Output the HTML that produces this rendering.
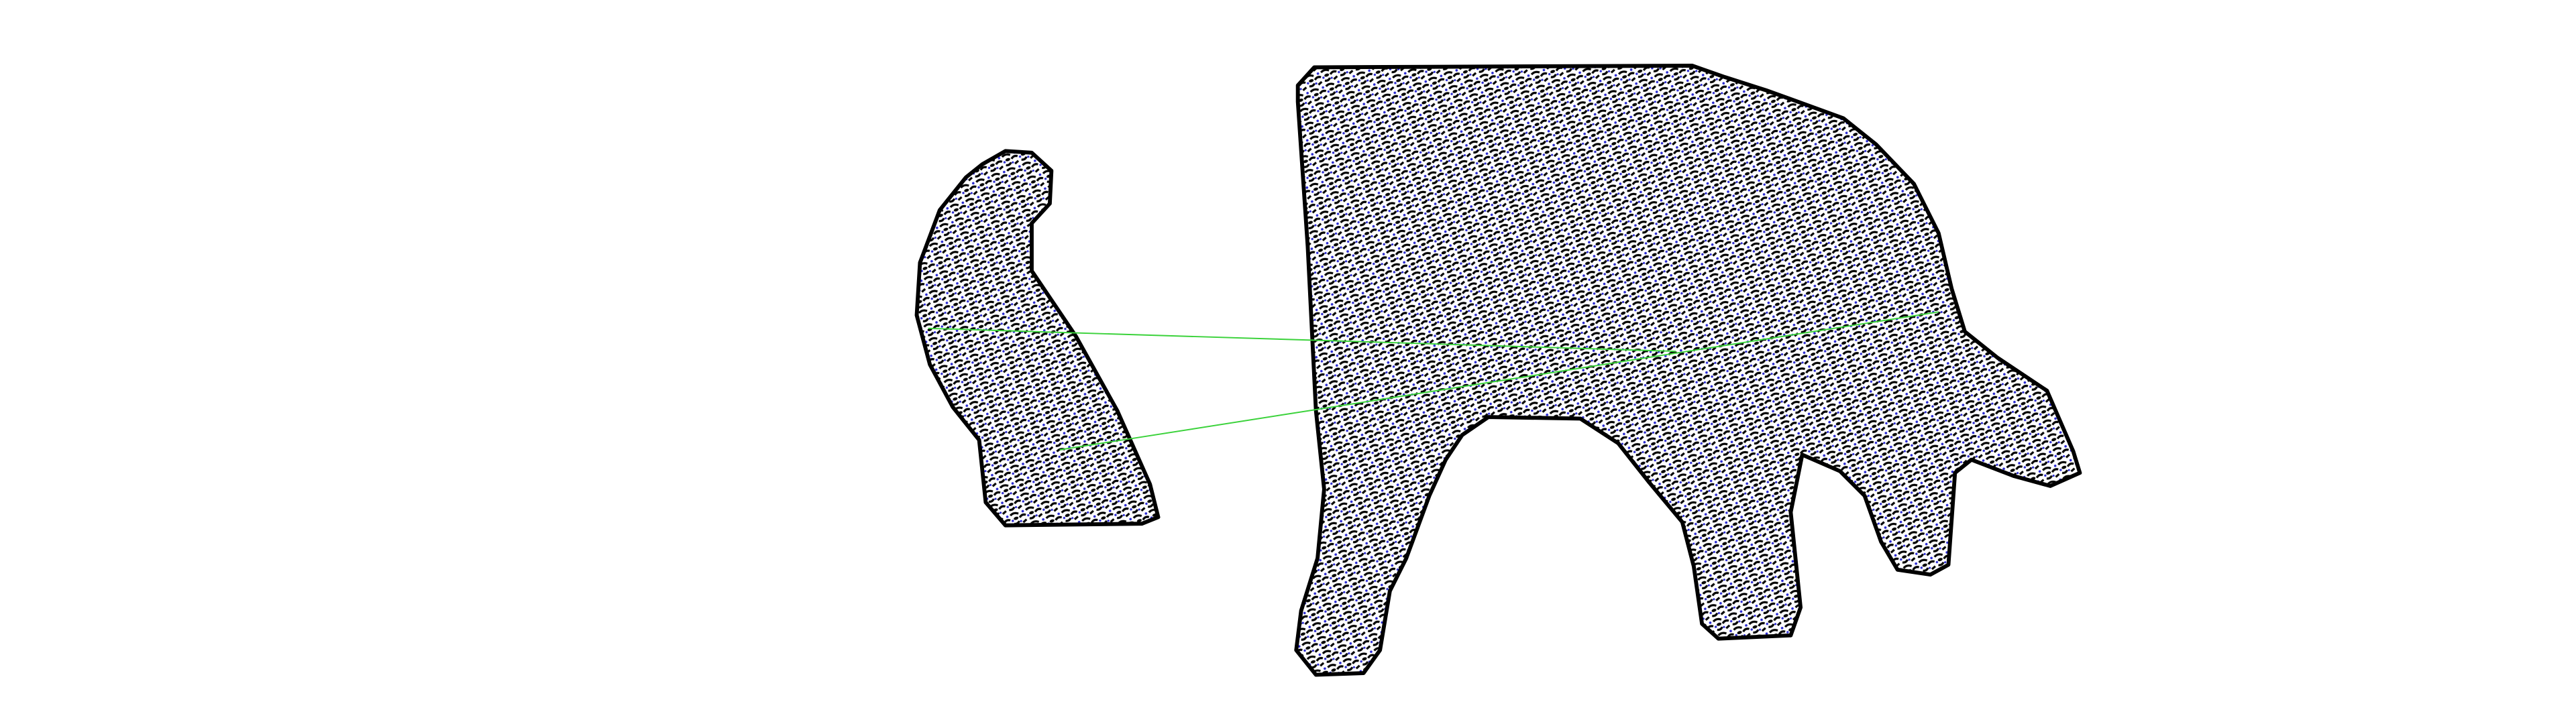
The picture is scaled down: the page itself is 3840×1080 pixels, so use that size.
<!DOCTYPE html>
<html><head><meta charset="utf-8"><style>
html,body{margin:0;padding:0;background:#fff;width:3840px;height:1080px;overflow:hidden}
svg{display:block}
</style></head><body>
<svg width="3840" height="1080" viewBox="0 0 1568 441" preserveAspectRatio="none" xmlns="http://www.w3.org/2000/svg">
<defs>
<pattern id="tex" width="10" height="9" patternUnits="userSpaceOnUse" patternTransform="rotate(-20)">
<rect width="10" height="9" fill="#fff"/>
<path d="M0.5 1.5 q2.5 -1.5 5 0.5 M5.5 4.5 q2 -1.8 4 -0.3 M1 7 q2 1 3.5 -0.6 M6.5 8 l2.5 -1" stroke="#000" stroke-width="1.3" fill="none"/>
<ellipse cx="3.2" cy="4.2" rx="1.5" ry="0.9" fill="#000"/>
<circle cx="8.5" cy="1.5" r="0.75" fill="#2a2ad0"/>
<circle cx="0.8" cy="5" r="0.7" fill="#2a2ad0"/>
<circle cx="5.5" cy="6.8" r="0.65" fill="#2a2ad0"/>
</pattern>
</defs>
<path fill="url(#tex)" stroke="#000" stroke-width="2.4" stroke-linejoin="round"
d="M598,100 L612,92 L628,93 L640,104 L639,124 L628,136 L628,165 L655,205 L680,250 L700,295 L705,315 L695,319 L612,320 L600,306 L596,268 L580,248 L566,222 L558,192 L560,160 L572,128 L588,108 Z"/>
<path fill="url(#tex)" stroke="#000" stroke-width="2.4" stroke-linejoin="round"
d="M790,52 L800,41 L1030,40 L1050,47 L1075,55 L1100,64 L1122,72 L1142,88 L1165,112 L1180,142 L1188,176 L1196,202 L1216,218 L1246,238 L1262,275 L1266,288 L1248,296 L1226,290 L1200,280 L1190,288 L1186,344 L1175,350 L1155,347 L1145,330 L1135,302 L1120,287 L1097,277 L1090,312 L1096,370 L1090,387 L1046,389 L1036,380 L1031,345 L1024,318 L1004,294 L985,270 L962,255 L906,254 L890,265 L880,280 L870,302 L856,340 L846,360 L840,396 L830,410 L801,411 L789,396 L792,372 L802,340 L806,298 L801,250 L796,150 L790,62 Z"/>
<g id="matches"></g>
</svg>
<script>
const srcX=[565,645];
const srcY=[200,274];
const dstX=[1020,1180];
const dstY=[214,190];
const g=document.getElementById('matches');
for(let i=0;i<srcX.length;i++){
  const l=document.createElementNS('http://www.w3.org/2000/svg','line');
  
  
  l.setAttribute('x1',srcX[i]);l.setAttribute('y1',srcY[i]);
  l.setAttribute('x2',dstX[i]);l.setAttribute('y2',dstY[i]);
  l.setAttribute('stroke','#3ad23a');l.setAttribute('stroke-width','0.8');
  g.appendChild(l);
}
</script>
</body></html>
